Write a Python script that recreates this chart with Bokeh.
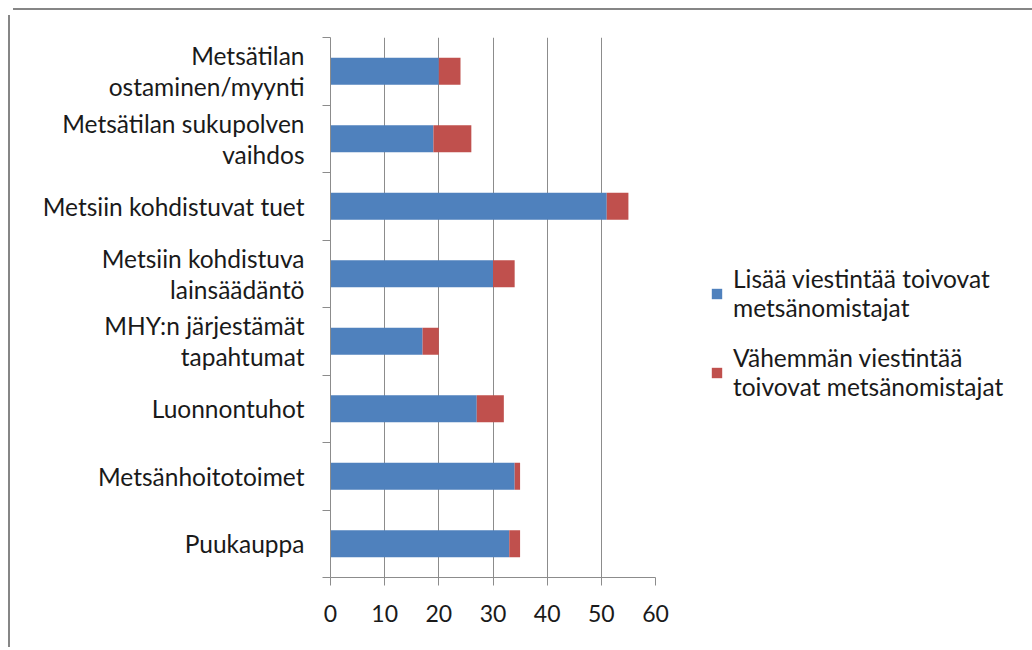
from bokeh.plotting import figure
from bokeh.layouts import column
from bokeh.models import ColumnDataSource, FixedTicker, Legend, LegendItem, Range1d, Div
from bokeh.embed import file_html
from bokeh.resources import INLINE

categories = [
    "Puukauppa",
    "Metsänhoitotoimet",
    "Luonnontuhot",
    "MHY:n järjestämät\ntapahtumat",
    "Metsiin kohdistuva\nlainsäädäntö",
    "Metsiin kohdistuvat tuet",
    "Metsätilan sukupolven\nvaihdos",
    "Metsätilan\nostaminen/myynti",
]
more_comm = [33, 34, 27, 17, 30, 51, 19, 20]
less_comm = [2, 1, 5, 3, 4, 4, 7, 4]
series_names = [
    "Lisää viestintää toivovat\nmetsänomistajat",
    "Vähemmän viestintää\ntoivovat metsänomistajat",
]
x_ticks = [0, 10, 20, 30, 40, 50, 60]

BLUE = "#4F81BD"
RED = "#C0504D"
GRID = "#8c8c8c"
FRAME = "#868686"
FONT = "Lato"

ypos = [i + 0.5 for i in range(len(categories))]
src = ColumnDataSource(dict(y=ypos, more=more_comm, less=less_comm))

p = figure(
    frame_width=323, frame_height=540,
    x_range=Range1d(0, 60), y_range=Range1d(0, len(categories)),
    output_backend="svg", toolbar_location=None,
    min_border_left=320, min_border_top=22, min_border_bottom=70, min_border_right=358,
)
p.styles = {"border-left": "2px solid " + FRAME}
p.outline_line_color = None

rs = p.hbar_stack(["more", "less"], y="y", height=0.4, color=[BLUE, RED], line_color=None, source=src)

# x axis
p.xaxis.ticker = FixedTicker(ticks=x_ticks)
p.xaxis.axis_line_color = GRID
p.xaxis.major_tick_line_color = GRID
p.xaxis.major_tick_out = 8
p.xaxis.major_tick_in = 0
p.xaxis.minor_tick_line_color = None
p.xaxis.major_label_text_font = FONT
p.xaxis.major_label_text_font_size = "23px"
p.xaxis.major_label_text_color = "#1a1a1a"
p.xaxis.major_label_standoff = 19

# y axis
p.yaxis.ticker = FixedTicker(ticks=ypos, minor_ticks=list(range(len(categories) + 1)))
p.yaxis.major_label_overrides = {ypos[i]: categories[i] for i in range(len(categories))}
p.yaxis.axis_line_color = GRID
p.yaxis.major_tick_line_color = None
p.yaxis.major_tick_out = 0
p.yaxis.major_tick_in = 0
p.yaxis.minor_tick_line_color = GRID
p.yaxis.minor_tick_out = 8
p.yaxis.minor_tick_in = 0
p.yaxis.major_label_text_font = FONT
p.yaxis.major_label_text_font_size = "24.5px"
p.yaxis.major_label_text_line_height = 1.08
p.yaxis.major_label_text_color = "#1a1a1a"
p.yaxis.major_label_standoff = 18

p.xgrid.ticker = FixedTicker(ticks=x_ticks)
p.xgrid.grid_line_color = GRID
p.ygrid.grid_line_color = None

legend = Legend(
    items=[LegendItem(label=series_names[0], renderers=[rs[0]]),
           LegendItem(label=series_names[1], renderers=[rs[1]])],
    location=(55, 176),
    border_line_color=None, background_fill_alpha=0,
    label_text_font=FONT, label_text_font_size="24.5px", label_text_color="#1a1a1a",
    label_text_line_height=1.55,
    glyph_width=13, glyph_height=13, spacing=21, padding=0, margin=0,
    label_standoff=10,
)
p.add_layout(legend, "right")

top_line = Div(width=1020, height=2, styles={"background-color": FRAME})
layout = column(top_line, p, spacing=0, styles={"margin-left": "8px", "margin-top": "3px"})

open("out.html", "w").write(file_html(layout, INLINE))
